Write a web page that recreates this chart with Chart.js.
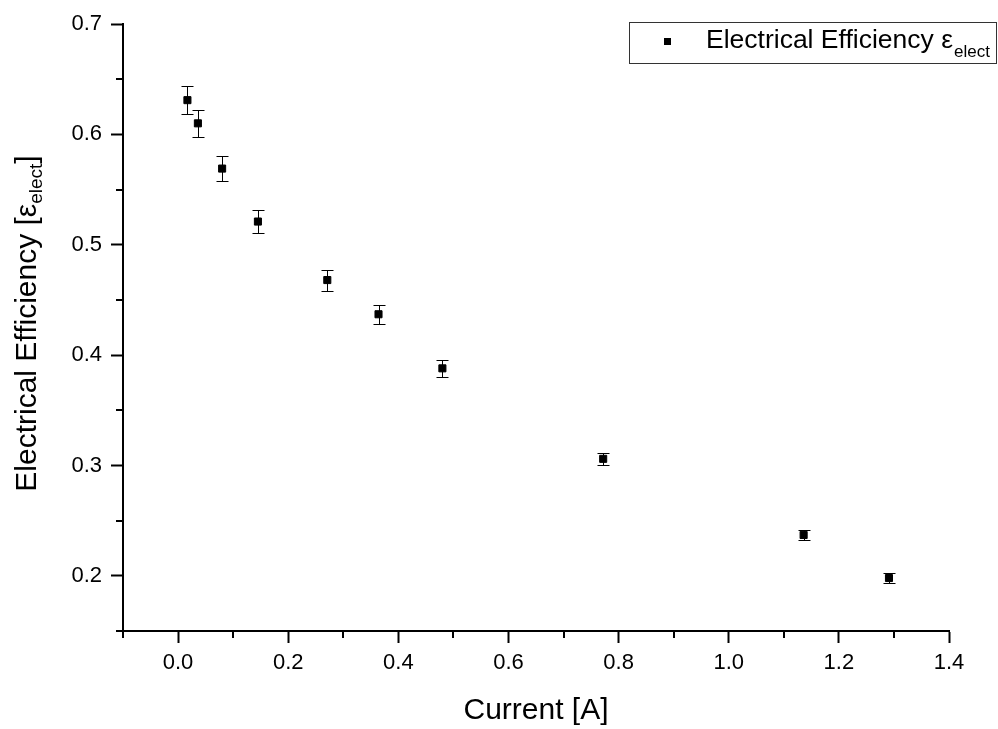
<!DOCTYPE html>
<html>
<head>
<meta charset="utf-8">
<title>Electrical Efficiency</title>
<script src="https://cdn.jsdelivr.net/npm/chart.js@4/dist/chart.umd.min.js"></script>
<style>
  body { margin: 0; background: #fff; }
  canvas { display: block; }
</style>
</head>
<body>
<canvas id="myChart" width="998" height="729"></canvas>
<script>
'use strict';

// values
let current = [0.017, 0.036, 0.080, 0.145, 0.271, 0.364, 0.480, 0.772, 1.136, 1.291];
let efficiency = [0.631, 0.610, 0.569, 0.521, 0.468, 0.437, 0.388, 0.306, 0.237, 0.198];
let errors = [0.0129, 0.0123, 0.0116, 0.0107, 0.0095, 0.0088, 0.0077, 0.0056, 0.0047, 0.0044];

let xTicks = [0.0, 0.2, 0.4, 0.6, 0.8, 1.0, 1.2, 1.4];
let xMinorTicks = [-0.1, 0.1, 0.3, 0.5, 0.7, 0.9, 1.1, 1.3];
let yTicks = [0.2, 0.3, 0.4, 0.5, 0.6, 0.7];
let yMinorTicks = [0.15, 0.25, 0.35, 0.45, 0.55, 0.65];

let fontFamily = '"Liberation Sans", Arial, sans-serif';

let points = [];
for (let i = 0; i < current.length; i++) {
  points.push({ x: current[i], y: efficiency[i] });
}

// error bars under the squares
let errorBars = {
  id: 'errorBars',
  beforeDatasetsDraw(chart) {
    let ctx = chart.ctx;
    let xs = chart.scales.x;
    let ys = chart.scales.y;
    ctx.save();
    ctx.strokeStyle = '#000';
    ctx.lineWidth = 1;
    for (let i = 0; i < current.length; i++) {
      let px = Math.round(xs.getPixelForValue(current[i])) + 0.5;
      let top = Math.round(ys.getPixelForValue(efficiency[i] + errors[i])) + 0.5;
      let bot = Math.round(ys.getPixelForValue(efficiency[i] - errors[i])) + 0.5;
      ctx.beginPath();
      ctx.moveTo(px, top);
      ctx.lineTo(px, bot);
      ctx.moveTo(px - 6, top);
      ctx.lineTo(px + 6, top);
      ctx.moveTo(px - 6, bot);
      ctx.lineTo(px + 6, bot);
      ctx.stroke();
    }
    ctx.restore();
  }
};

// short minor ticks, y title with subscript, legend box
let extras = {
  id: 'extras',
  afterDraw(chart) {
    let ctx = chart.ctx;
    let xs = chart.scales.x;
    let ys = chart.scales.y;
    let area = chart.chartArea;
    ctx.save();
    ctx.strokeStyle = '#000';
    ctx.lineWidth = 2;
    ctx.beginPath();
    xMinorTicks.forEach(v => {
      let px = Math.round(xs.getPixelForValue(v));
      ctx.moveTo(px, area.bottom);
      ctx.lineTo(px, area.bottom + 7);
    });
    yMinorTicks.forEach(v => {
      let py = Math.round(ys.getPixelForValue(v));
      ctx.moveTo(area.left, py);
      ctx.lineTo(area.left - 7, py);
    });
    ctx.stroke();

    // y axis title
    ctx.fillStyle = '#000';
    ctx.textBaseline = 'alphabetic';
    let big = '30px ' + fontFamily;
    let small = '19px ' + fontFamily;
    let parts = [
      { t: 'Electrical Efficiency [', f: big, dy: 0 },
      { t: '\u03b5', f: big, dy: 0 },
      { t: 'elect', f: small, dy: 6 },
      { t: ']', f: big, dy: 0 }
    ];
    let total = 0;
    parts.forEach(p => { ctx.font = p.f; p.w = ctx.measureText(p.t).width; total += p.w; });
    ctx.translate(36, (area.top + area.bottom) / 2 - 4);
    ctx.rotate(-Math.PI / 2);
    let cx = -total / 2;
    parts.forEach(p => {
      ctx.font = p.f;
      ctx.fillText(p.t, cx, p.dy);
      cx += p.w;
    });
    ctx.restore();

    // legend
    ctx.save();
    ctx.strokeStyle = '#333';
    ctx.lineWidth = 1;
    ctx.strokeRect(629.5, 22.5, 367, 41);
    ctx.fillStyle = '#000';
    ctx.fillRect(664, 38, 7, 7);
    let lx = 706;
    ctx.font = '26.5px ' + fontFamily;
    ctx.fillText('Electrical Efficiency \u03b5', lx, 48);
    lx += ctx.measureText('Electrical Efficiency \u03b5').width + 1;
    ctx.font = '17px ' + fontFamily;
    ctx.fillText('elect', lx, 57);
    ctx.restore();
  }
};

let ctx = document.getElementById('myChart').getContext('2d');
let myChart = new Chart(ctx, {
  type: 'scatter',
  data: {
    datasets: [{
      label: 'Electrical Efficiency',
      data: points,
      pointStyle: 'rect',
      pointRadius: 5,
      pointHoverRadius: 5,
      borderWidth: 1,
      backgroundColor: '#000',
      borderColor: '#000'
    }]
  },
  options: {
    responsive: false,
    animation: false,
    devicePixelRatio: 1,
    layout: { padding: { left: 0, top: 24, right: 49, bottom: 0 } },
    plugins: {
      legend: { display: false },
      tooltip: { enabled: false }
    },
    scales: {
      x: {
        type: 'linear',
        min: -0.1,
        max: 1.4,
        afterBuildTicks: scale => { scale.ticks = xTicks.map(v => ({ value: v })); },
        afterFit: scale => { scale.height = 98; },
        border: { display: true, color: '#000', width: 2 },
        grid: { drawOnChartArea: false, drawTicks: true, tickLength: 12, tickWidth: 2, tickColor: '#000' },
        ticks: {
          color: '#000',
          padding: 7,
          maxRotation: 0,
          font: { family: fontFamily, size: 22 },
          callback: v => v.toFixed(1)
        },
        title: {
          display: true,
          text: 'Current [A]',
          color: '#000',
          font: { family: fontFamily, size: 30 },
          padding: { top: 0, bottom: 0 }
        }
      },
      y: {
        type: 'linear',
        min: 0.15,
        max: 0.7,
        afterBuildTicks: scale => { scale.ticks = yTicks.map(v => ({ value: v })); },
        afterFit: scale => { scale.width = 123; },
        border: { display: true, color: '#000', width: 2 },
        grid: { drawOnChartArea: false, drawTicks: true, tickLength: 12, tickWidth: 2, tickColor: '#000' },
        ticks: {
          color: '#000',
          padding: 9,
          font: { family: fontFamily, size: 22 },
          callback: v => v.toFixed(1)
        }
      }
    }
  },
  plugins: [errorBars, extras]
});
</script>
</body>
</html>
